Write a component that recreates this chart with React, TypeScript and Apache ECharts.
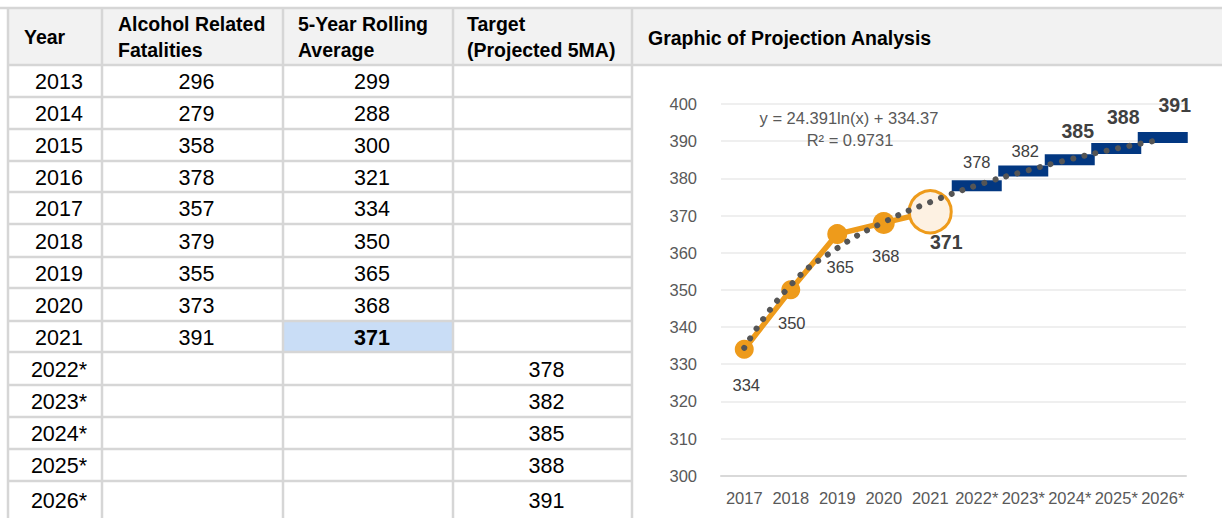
import React, { useEffect, useRef } from 'react';
import * as echarts from 'echarts';

// ---------- data ----------
const tableYears = ['2013', '2014', '2015', '2016', '2017', '2018', '2019', '2020', '2021', '2022*', '2023*', '2024*', '2025*', '2026*'];
const fatalities = [296, 279, 358, 378, 357, 379, 355, 373, 391];
const rollingAvg = [299, 288, 300, 321, 334, 350, 365, 368, 371];
const targetValues = [378, 382, 385, 388, 391];
const headers = ['Year', 'Alcohol Related\nFatalities', '5-Year Rolling\nAverage', 'Target\n(Projected 5MA)'];
const chartTitle = 'Graphic of Projection Analysis';
const chartCategories = ['2017', '2018', '2019', '2020', '2021', '2022*', '2023*', '2024*', '2025*', '2026*'];
// trendline values at each category
const trendValues = [334.4, 351.3, 361.2, 368.2, 373.6, 378.1, 381.8, 385.1, 388.0, 390.5];
const trendEquation = 'y = 24.391ln(x) + 334.37';
const trendR2 = 'R² = 0.9731';
const yTicks = { min: 300, max: 400, interval: 10 };

// ---------- layout / style ----------
const FONT = '"Liberation Sans", Arial, sans-serif';
const ORANGE = '#EE9B1B';
const NAVY = '#023781';
const LINE = '#d6d6d6';
const rowEdges = [65, 97, 129, 161, 192, 224, 257, 288, 321, 352, 385, 417, 449, 481, 518];
const colEdges = [8, 102, 283, 453, 632];
const headerX = [24, 118, 298, 467];
const orangeSizes = [19, 19, 20, 22, 42];
const orangeLabelOffsets = [[2, 36], [1, 33], [3, 33], [2, 33], [16, 30]];
const orangeLabelBold = [false, false, false, false, true];
const targetLabelOffsets = [[0, -24], [2, -20], [8, -29], [7, -32], [12, -32]];
const targetLabelBold = [false, false, true, true, true];

export default function App() {
  const ref = useRef<HTMLDivElement>(null);
  useEffect(() => {
    document.body.style.margin = '0';
    const chart = echarts.init(ref.current!, null, { renderer: 'svg' });

    const g: any[] = [];
    // header background
    g.push({ type: 'rect', silent: true, shape: { x: 8, y: 8, width: 1214, height: rowEdges[0] - 8 }, style: { fill: '#f2f2f2' } });
    // highlighted cell (2021 rolling average)
    g.push({ type: 'rect', silent: true, shape: { x: colEdges[2] + 1, y: rowEdges[8], width: colEdges[3] - colEdges[2] - 1, height: rowEdges[9] - rowEdges[8] }, style: { fill: '#c9ddf6' } });
    // horizontal lines
    g.push({ type: 'line', silent: true, shape: { x1: 0, y1: 8, x2: 1222, y2: 8 }, style: { stroke: LINE, lineWidth: 2.5 } });
    g.push({ type: 'line', silent: true, shape: { x1: 8, y1: rowEdges[0], x2: 1222, y2: rowEdges[0] }, style: { stroke: LINE, lineWidth: 2.5 } });
    for (let i = 1; i < rowEdges.length - 1; i++) {
      g.push({ type: 'line', silent: true, shape: { x1: 8, y1: rowEdges[i], x2: colEdges[4], y2: rowEdges[i] }, style: { stroke: LINE, lineWidth: 2.5 } });
    }
    // vertical lines
    colEdges.forEach((x) => {
      g.push({ type: 'line', silent: true, shape: { x1: x, y1: 8, x2: x, y2: 518 }, style: { stroke: LINE, lineWidth: 2.5 } });
    });
    // headers
    headers.forEach((h, i) => {
      g.push({ type: 'text', silent: true, x: headerX[i], y: 37, style: { text: h, fontSize: 19.5, fontWeight: 'bold', fontFamily: FONT, fill: '#000', align: 'left', verticalAlign: 'middle', lineHeight: 26 } });
    });
    g.push({ type: 'text', silent: true, x: 648, y: 38, style: { text: chartTitle, fontSize: 19.5, fontWeight: 'bold', fontFamily: FONT, fill: '#000', align: 'left', verticalAlign: 'middle' } });
    // body cells
    const colCenter = (c: number) => (colEdges[c] + colEdges[c + 1]) / 2 + 4;
    const cell = (c: number, r: number, text: string, bold = false) => {
      g.push({ type: 'text', silent: true, x: colCenter(c), y: (rowEdges[r] + rowEdges[r + 1]) / 2 + 1, style: { text, fontSize: 21.5, fontWeight: bold ? 'bold' : 'normal', fontFamily: FONT, fill: '#000', align: 'center', verticalAlign: 'middle' } });
    };
    tableYears.forEach((y, r) => cell(0, r, y));
    fatalities.forEach((v, r) => cell(1, r, String(v)));
    rollingAvg.forEach((v, r) => cell(2, r, String(v), r === rollingAvg.length - 1));
    targetValues.forEach((v, i) => cell(3, rollingAvg.length + i, String(v)));
    // trend equation
    g.push({ type: 'text', silent: true, z: 10, x: 849, y: 118, style: { text: trendEquation, fontSize: 16.5, fontFamily: FONT, fill: '#595959', align: 'center', verticalAlign: 'middle' } });
    g.push({ type: 'text', silent: true, z: 10, x: 850, y: 140, style: { text: trendR2, fontSize: 16.5, fontFamily: FONT, fill: '#595959', align: 'center', verticalAlign: 'middle' } });

    const nActual = chartCategories.length - targetValues.length;
    const orangeData: any[] = chartCategories.map((_, i) => {
      if (i >= nActual) return '-';
      const v = rollingAvg[rollingAvg.length - nActual + i];
      const last = i === nActual - 1;
      return {
        value: v,
        symbolSize: orangeSizes[i],
        itemStyle: last ? { color: '#fdf1e2', borderColor: ORANGE, borderWidth: 3 } : { color: ORANGE },
        label: {
          show: true,
          position: 'inside',
          offset: orangeLabelOffsets[i],
          fontSize: orangeLabelBold[i] ? 19.5 : 16.5,
          fontWeight: orangeLabelBold[i] ? 'bold' : 'normal',
          color: '#404040',
          fontFamily: FONT,
        },
      };
    });
    const targetData: any[] = chartCategories.map((_, i) => {
      if (i < nActual) return '-';
      const k = i - nActual;
      return {
        value: targetValues[k],
        label: {
          show: true,
          position: 'inside',
          offset: targetLabelOffsets[k],
          fontSize: targetLabelBold[k] ? 19.5 : 16.5,
          fontWeight: targetLabelBold[k] ? 'bold' : 'normal',
          color: '#404040',
          fontFamily: FONT,
        },
      };
    });

    chart.setOption({
      animation: false,
      backgroundColor: '#fff',
      graphic: g,
      grid: { left: 721, right: 36, top: 104, bottom: 42.3, containLabel: false },
      xAxis: {
        type: 'category',
        data: chartCategories,
        boundaryGap: true,
        axisLine: { show: true, lineStyle: { color: '#d9d9d9', width: 2 } },
        axisTick: { show: false },
        axisLabel: { interval: 0, color: '#595959', fontSize: 16.5, fontFamily: FONT, margin: 14 },
      },
      yAxis: {
        type: 'value',
        min: yTicks.min,
        max: yTicks.max,
        interval: yTicks.interval,
        axisLine: { show: false },
        axisTick: { show: false },
        splitLine: { lineStyle: { color: '#efefef', width: 2 } },
        axisLabel: { color: '#595959', fontSize: 16.5, fontFamily: FONT, margin: 24 },
      },
      series: [
        {
          name: '5-Year Rolling Average',
          type: 'line',
          data: orangeData,
          symbol: 'circle',
          lineStyle: { color: ORANGE, width: 5.5 },
          itemStyle: { color: ORANGE, opacity: 1 },
          z: 2,
        },
        {
          name: 'Target',
          type: 'scatter',
          data: targetData,
          symbol: 'rect',
          symbolSize: [50, 11],
          itemStyle: { color: NAVY, opacity: 1 },
          z: 2,
        },
        {
          name: 'Trend',
          type: 'line',
          data: trendValues,
          smooth: true,
          symbol: 'none',
          lineStyle: { color: '#555555', width: 6, type: [0.01, 11.5], cap: 'round' },
          z: 5,
        },
      ],
    });
    return () => chart.dispose();
  }, []);
  return <div ref={ref} style={{ position: 'absolute', left: 0, top: 0, width: 1222, height: 518, background: '#fff' }} />;
}
